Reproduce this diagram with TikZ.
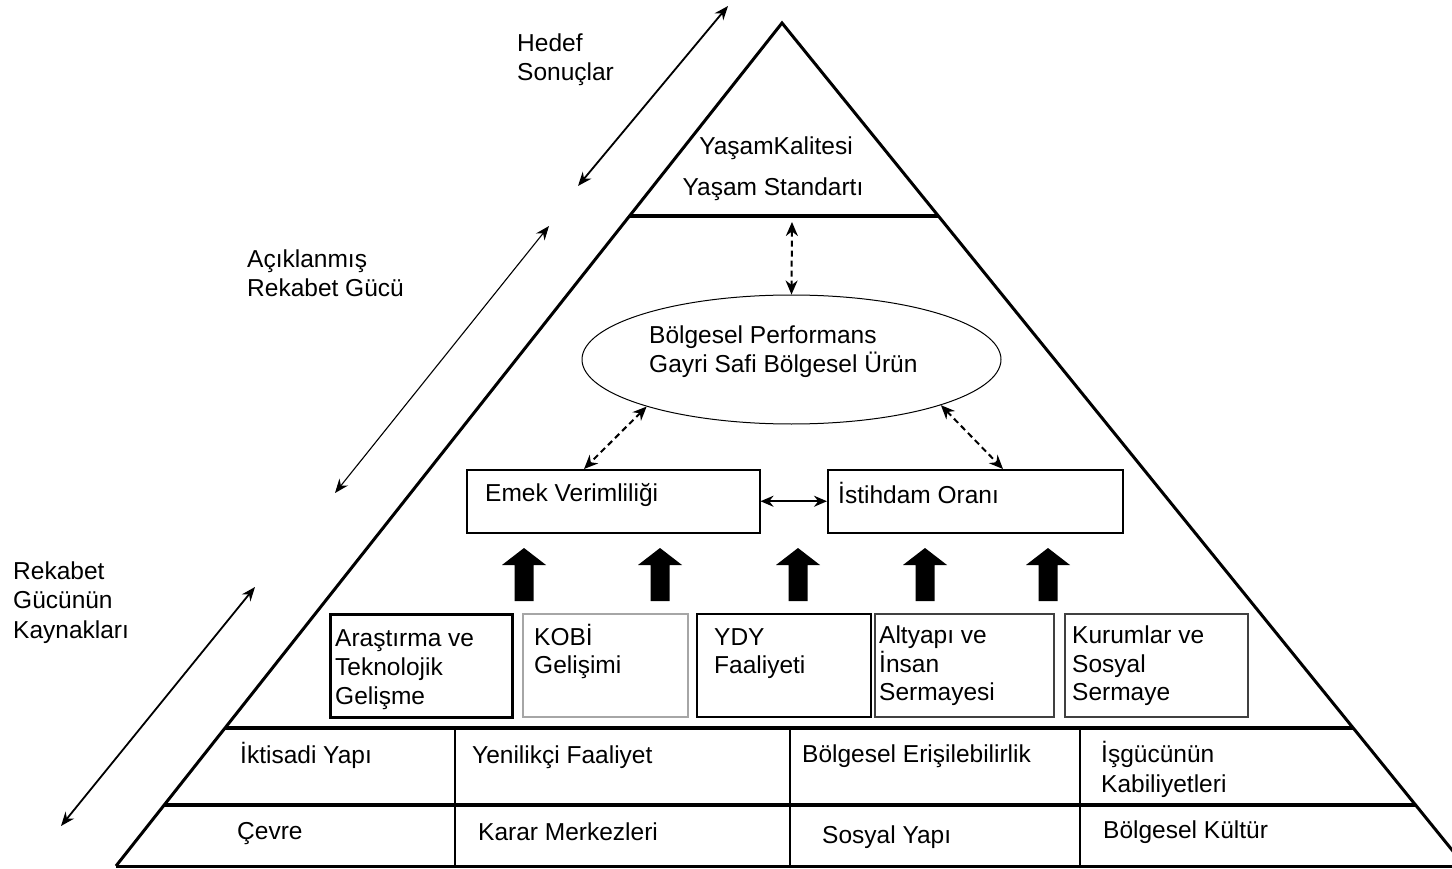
\documentclass[tikz,border=0pt]{standalone}
\usepackage{fontspec}
\setmainfont{Liberation Sans}
\usetikzlibrary{arrows.meta,shapes.geometric,calc}
\begin{document}
\begin{tikzpicture}[x=1pt,y=-1pt,
  txt/.style={anchor=base west,inner sep=0pt,font=\fontsize{24.5}{29}\selectfont},
  ctxt/.style={anchor=base,inner sep=0pt,font=\fontsize{24.5}{29}\selectfont},
  heavy/.style={line width=3pt},
  divider/.style={line width=2pt},
  sidearr/.style={line width=1.8pt,{Stealth[length=14pt,width=11pt]}-{Stealth[length=14pt,width=11pt]}},
  thinarr/.style={line width=1.1pt,{Stealth[length=14pt,width=11pt]}-{Stealth[length=14pt,width=11pt]}},
  dasharr/.style={line width=2pt,dash pattern=on 6pt off 4pt,{Stealth[length=14pt,width=12pt]}-{Stealth[length=14pt,width=12pt]}},
  solarr/.style={line width=2pt,{Stealth[length=13pt,width=11pt]}-{Stealth[length=13pt,width=11pt]}},
  mbox/.style={draw,line width=1.5pt,anchor=north west,inner sep=0pt},
  srcbox/.style={draw,anchor=north west,inner sep=0pt,minimum width=#1,minimum height=103pt},
  perf/.style={draw,ellipse,line width=1pt,inner sep=0pt,minimum width=419pt,minimum height=129pt}
]
\clip (0,0) rectangle (1452,869);
\fill[white] (0,0) rectangle (1452,869);

% pyramid
\draw[heavy,line join=miter] (116,866) -- (782,23) -- (1465,866);
\draw[heavy] (116,866) -- (1465,866);
\draw[line width=3.5pt] (629.5,216) -- (938.3,216);
\draw[line width=3.5pt] (225,728) -- (1353,728);
\draw[line width=3.5pt] (164.2,805) -- (1415.4,805);
\draw[divider] (455,728) -- (455,866);
\draw[divider] (790,728) -- (790,866);
\draw[divider] (1080,728) -- (1080,866);

% side labels and arrows
\node[txt] (hedef) at (517,52) {Hedef};
\node[txt] (sonuc) at (517,81) {Sonuçlar};
\node[txt] (acik) at (247,268) {Açıklanmış};
\node[txt] (rekg) at (247,297) {Rekabet Gücü};
\node[txt] (rek1) at (13,579) {Rekabet};
\node[txt] (rek2) at (13,608) {Gücünün};
\node[txt] (rek3) at (13,638) {Kaynakları};
\coordinate (a1s) at (578,186);
\coordinate (a1e) at (728,6);
\coordinate (a2s) at (335,493);
\coordinate (a2e) at (549,226);
\coordinate (a3s) at (61,826);
\coordinate (a3e) at (255,587);
\draw[sidearr] (a1s) -- (a1e);
\draw[thinarr] (a2s) -- (a2e);
\draw[sidearr] (a3s) -- (a3e);

% top
\node[ctxt] (kal) at (776,155) {YaşamKalitesi};
\node[ctxt] (std) at (773,196) {Yaşam Standartı};
\coordinate (tb) at (792,220);

% performance ellipse
\node[perf] (ell) at (791.5,359.5) {};
\node[txt] (p1) at (649,343) {Bölgesel Performans};
\node[txt] (p2) at (649,372) {Gayri Safi Bölgesel Ürün};

% middle boxes
\node[mbox,minimum width=293pt,minimum height=63pt] (emek) at (466,469) {};
\node[mbox,minimum width=295pt,minimum height=63pt] (ist) at (827,469) {};
\node[txt] (emekt) at (485,501) {Emek Verimliliği};
\node[txt] (istt) at (838,503) {İstihdam Oranı};

\draw[dasharr,shorten <=2pt] (tb) -- (ell.north);
\draw[dasharr] (ell.198) -- ($(emek.north west)+(118,0)$);
\draw[dasharr] (ell.343) -- ($(ist.north west)+(176,0)$);
\draw[solarr] (emek.east) -- (ist.west);

% big arrows
\foreach \c in {524,660,798,925,1048}{
  \fill (\c-9.5,601) -- (\c-9.5,565) -- (\c-22,565) -- (\c,548) -- (\c+22,565) -- (\c+9.5,565) -- (\c+9.5,601) -- cycle;
}

% source boxes
\node[srcbox=182pt,line width=3pt] (s1) at (329,613) {};
\node[srcbox=165pt,line width=2pt,draw=black!35] (s2) at (522,613) {};
\node[srcbox=174pt,line width=1.5pt] (s3) at (696,613) {};
\node[srcbox=179pt,line width=1.5pt,draw=black!75] (s4) at (874,613) {};
\node[srcbox=183pt,line width=1.5pt,draw=black!75] (s5) at (1064,613) {};

\node[txt] at (335,646) {Araştırma ve};
\node[txt] at (335,675) {Teknolojik};
\node[txt] at (335,704) {Gelişme};
\node[txt] at (534,645) {KOBİ};
\node[txt] at (534,673) {Gelişimi};
\node[txt] at (714,645) {YDY};
\node[txt] at (714,673) {Faaliyeti};
\node[txt] at (879,643) {Altyapı ve};
\node[txt] at (879,672) {İnsan};
\node[txt] at (879,700) {Sermayesi};
\node[txt] at (1072,643) {Kurumlar ve};
\node[txt] at (1072,672) {Sosyal};
\node[txt] at (1072,700) {Sermaye};

% bottom rows
\node[txt] at (240,763) {İktisadi Yapı};
\node[txt] at (472,763) {Yenilikçi Faaliyet};
\node[txt] at (802,762) {Bölgesel Erişilebilirlik};
\node[txt] at (1101,762) {İşgücünün};
\node[txt] at (1101,792) {Kabiliyetleri};
\node[txt] at (237,839) {Çevre};
\node[txt] at (478,840) {Karar Merkezleri};
\node[txt] at (822,843) {Sosyal Yapı};
\node[txt] at (1103,838) {Bölgesel Kültür};
\end{tikzpicture}
\end{document}
